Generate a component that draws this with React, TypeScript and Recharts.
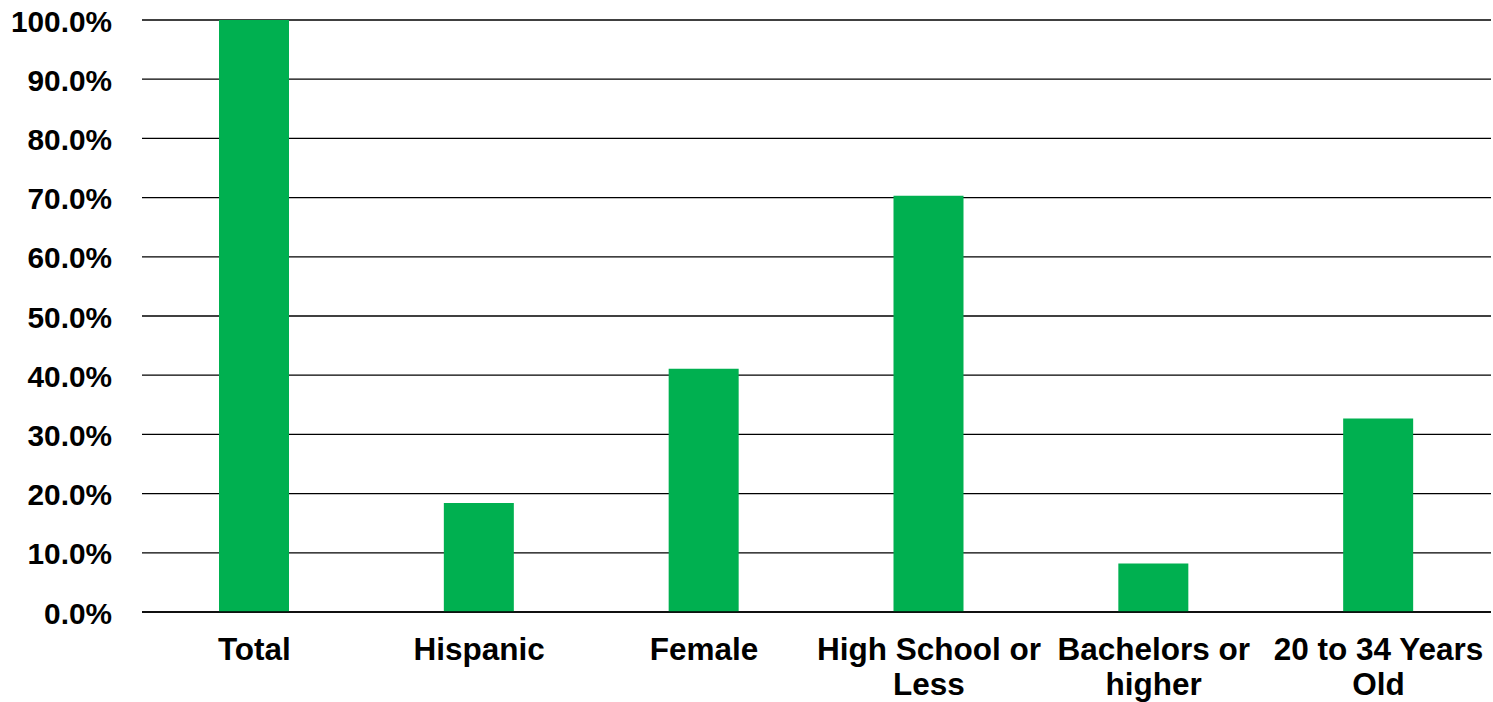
import React from "react";
import { BarChart, Bar, XAxis, YAxis, CartesianGrid } from "recharts";

const categories = ["Total", "Hispanic", "Female", "High School or Less", "Bachelors or higher", "20 to 34 Years Old"];
const tickLines = [["Total"], ["Hispanic"], ["Female"], ["High School or", "Less"], ["Bachelors or", "higher"], ["20 to 34 Years", "Old"]];
const shares = [100.0, 18.4, 41.1, 70.3, 8.2, 32.7];
const yTicks = [0, 10, 20, 30, 40, 50, 60, 70, 80, 90, 100];

const data = categories.map((c, i) => ({ name: c, value: shares[i] }));
const FONT = "'Liberation Sans', Arial, Helvetica, sans-serif";

const YTick = (props: any) => {
  const { x, y, payload } = props;
  return (
    <text x={x - 30 + 8} y={y} dy={11.5} textAnchor="end" fontFamily={FONT} fontWeight="bold" fontSize={29.8} fill="#000">
      {`${Number(payload.value).toFixed(1)}%`}
    </text>
  );
};

const XTick = (props: any) => {
  const { x, y, payload } = props;
  const idx = categories.indexOf(payload.value);
  const lines = idx >= 0 ? tickLines[idx] : [String(payload.value)];
  return (
    <text x={x} y={y} textAnchor="middle" fontFamily={FONT} fontWeight="bold" fontSize={31.5} fill="#000">
      {lines.map((l, i) => (
        <tspan key={i} x={x} dy={i === 0 ? 47.5 - (y - 612) : 35.5}>{l}</tspan>
      ))}
    </text>
  );
};

export default function App() {
  return (
    <div style={{ position: "absolute", left: 0, top: 0, width: 1493, height: 702, background: "#fff" }}>
      <BarChart width={1493} height={702} data={data} margin={{ top: 20, right: 2, bottom: 0, left: 0 }}>
        <CartesianGrid vertical={false} stroke="#000" strokeWidth={1.3} />
        <XAxis dataKey="name" axisLine={{ stroke: "#000", strokeWidth: 1.3 }} tickLine={false} height={90} interval={0} tick={<XTick />} />
        <YAxis width={142} domain={[0, 100]} ticks={yTicks} axisLine={false} tickLine={false} tick={<YTick />} interval={0} />
        <Bar dataKey="value" fill="#00B050" barSize={70} isAnimationActive={false} />
      </BarChart>
    </div>
  );
}
